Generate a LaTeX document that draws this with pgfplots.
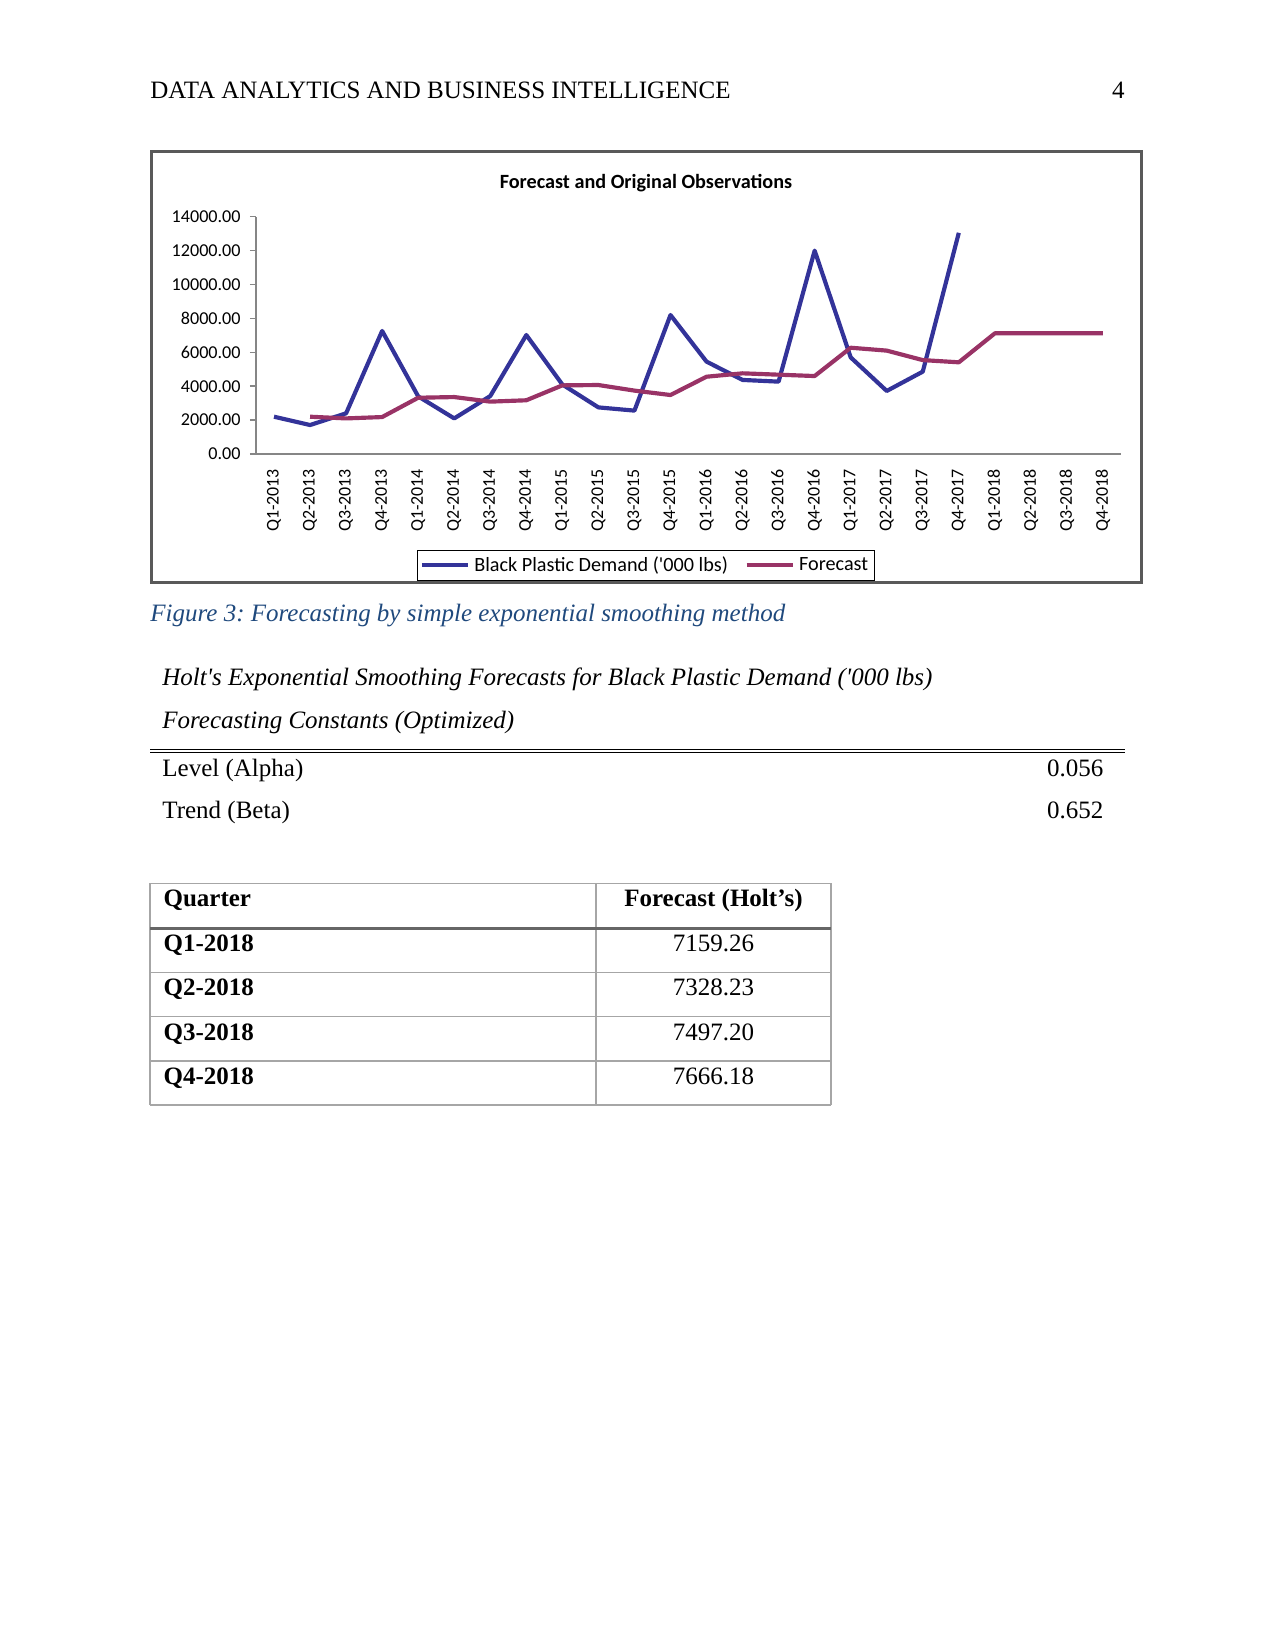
\documentclass[border=0pt]{standalone}
\usepackage{fontspec}
\setmainfont{Liberation Serif}
\newfontfamily\lserif{Liberation Serif}
\newfontfamily\carlito{Carlito}
\usepackage{pgfplots}
\pgfplotsset{compat=1.18}
\definecolor{dblue}{HTML}{333399}
\definecolor{dred}{HTML}{993366}
\definecolor{capblue}{HTML}{1F497D}
\definecolor{framegray}{HTML}{595959}
\definecolor{axgray}{HTML}{868686}
\definecolor{tabgray}{HTML}{A6A6A6}
\definecolor{thickgray}{HTML}{666666}
\frenchspacing
\begin{document}
\begin{tikzpicture}
\path[use as bounding box] (0,0) rectangle (612pt,-792pt);
\begin{scope}[x=0.48pt,y=-0.48pt,
  pt/.style={inner sep=0pt, font=\lserif\fontsize{12}{14}\selectfont},
  ptb/.style={inner sep=0pt, font=\lserif\fontsize{12}{14}\selectfont\bfseries},
  pti/.style={inner sep=0pt, font=\lserif\fontsize{12}{14}\selectfont\itshape}]
% header
\node[pt, anchor=base west] at (150,98.3) {DATA ANALYTICS AND BUSINESS INTELLIGENCE};
\node[pt, anchor=base east] at (1125,98.3) {4};
% chart frame
\draw[framegray, line width=1.44pt] (151.5,151.5) rectangle (1141,582.5);
\node[inner sep=0pt, anchor=base, font=\carlito\fontsize{9.7}{11}\selectfont\bfseries] at (646,188.5) {Forecast and Original Observations};
% caption
\node[pti, anchor=base west, text=capblue] at (150,621.7) {Figure 3: Forecasting by simple exponential smoothing method};
\node[pti, anchor=base west] at (162,685) {Holt's Exponential Smoothing Forecasts for Black Plastic Demand ('000 lbs)};
\node[pti, anchor=base west] at (162,728.3) {Forecasting Constants (Optimized)};
\draw[black, line width=0.5pt] (150,749.3) -- (1125,749.3);
\draw[black, line width=0.5pt] (150,752.3) -- (1125,752.3);
\node[pt, anchor=base west] at (162,776) {Level (Alpha)};
\node[pt, anchor=base east] at (1103.7,776) {0.056};
\node[pt, anchor=base west] at (162,818.3) {Trend (Beta)};
\node[pt, anchor=base east] at (1103.7,818.3) {0.652};
% table
\draw[tabgray, line width=0.6pt] (150,883.3) -- (831,883.3);
\draw[tabgray, line width=0.6pt] (150,972.7) -- (831,972.7);
\draw[tabgray, line width=0.6pt] (150,1016.7) -- (831,1016.7);
\draw[tabgray, line width=0.6pt] (150,1061) -- (831,1061);
\draw[tabgray, line width=0.6pt] (150,1105) -- (831,1105);
\draw[tabgray, line width=0.6pt] (150,883.3) -- (150,1105);
\draw[tabgray, line width=0.6pt] (596,883.3) -- (596,1105);
\draw[tabgray, line width=0.6pt] (831,883.3) -- (831,1105);
\draw[thickgray, line width=1.5pt] (150,928.3) -- (831,928.3);
\node[ptb, anchor=base west] at (163.2,906.7) {Quarter};
\node[ptb, anchor=base] at (713.5,906.7) {Forecast (Holt’s)};
\node[ptb, anchor=base west] at (163.2,951.7) {Q1-2018};
\node[pt, anchor=base] at (713.5,951.7) {7159.26};
\node[ptb, anchor=base west] at (163.2,995.9) {Q2-2018};
\node[pt, anchor=base] at (713.5,995.9) {7328.23};
\node[ptb, anchor=base west] at (163.2,1040.1) {Q3-2018};
\node[pt, anchor=base] at (713.5,1040.1) {7497.20};
\node[ptb, anchor=base west] at (163.2,1084.3) {Q4-2018};
\node[pt, anchor=base] at (713.5,1084.3) {7666.18};
\end{scope}
\begin{axis}[
  at={(122.88pt,-217.92pt)}, anchor=south west,
  scale only axis, width=415.2pt, height=113.9pt,
  xmin=-0.5, xmax=23.5, ymin=0, ymax=14000,
  scaled y ticks=false,
  axis x line*=bottom, axis y line*=left,
  axis line style={axgray, line width=0.7pt},
  xtick={0,...,23},
  xticklabels={Q1-2013,Q2-2013,Q3-2013,Q4-2013,Q1-2014,Q2-2014,Q3-2014,Q4-2014,Q1-2015,Q2-2015,Q3-2015,Q4-2015,Q1-2016,Q2-2016,Q3-2016,Q4-2016,Q1-2017,Q2-2017,Q3-2017,Q4-2017,Q1-2018,Q2-2018,Q3-2018,Q4-2018},
  xtick style={draw=none},
  xticklabel style={rotate=90, anchor=east, inner sep=0pt, font=\carlito\fontsize{8.6}{10}\selectfont},
  xticklabel shift=4.1pt,
  ytick={0,2000,4000,6000,8000,10000,12000,14000},
  yticklabels={0.00,2000.00,4000.00,6000.00,8000.00,10000.00,12000.00,14000.00},
  ytick style={axgray, line width=0.7pt},
  tick align=outside, major tick length=2.9pt,
  yticklabel style={anchor=east, inner sep=0pt, font=\carlito\fontsize{8.7}{10}\selectfont},
  yticklabel shift=4.3pt,
  legend columns=2,
  legend cell align=left,
  legend style={at={(0.4509,-0.4045)}, anchor=north, draw=black, line width=0.6pt,
    font=\carlito\fontsize{9.7}{11}\selectfont, inner xsep=1pt, inner ysep=0.8pt,
    /tikz/every even column/.append style={column sep=6pt}},
  legend image code/.code={\draw[#1, line width=2pt] (0cm,0cm) -- (0.78cm,0cm);},
]
\addplot[dblue, line width=2pt, line join=round] coordinates {
(0,2200) (1,1710) (2,2400) (3,7260) (4,3400) (5,2100) (6,3420) (7,7020) (8,4100) (9,2750)
(10,2560) (11,8200) (12,5450) (13,4370) (14,4270) (15,12000) (16,5700) (17,3720) (18,4860) (19,13050)};
\addlegendentry{Black Plastic Demand ('000 lbs)}
\addplot[dred, line width=2pt, line join=round] coordinates {
(1,2200) (2,2100) (3,2180) (4,3320) (5,3360) (6,3090) (7,3170) (8,4050) (9,4070) (10,3740)
(11,3480) (12,4560) (13,4760) (14,4680) (15,4600) (16,6270) (17,6100) (18,5540) (19,5410)
(20,7120) (21,7120) (22,7120) (23,7120)};
\addlegendentry{Forecast}
\end{axis}
\end{tikzpicture}
\end{document}
